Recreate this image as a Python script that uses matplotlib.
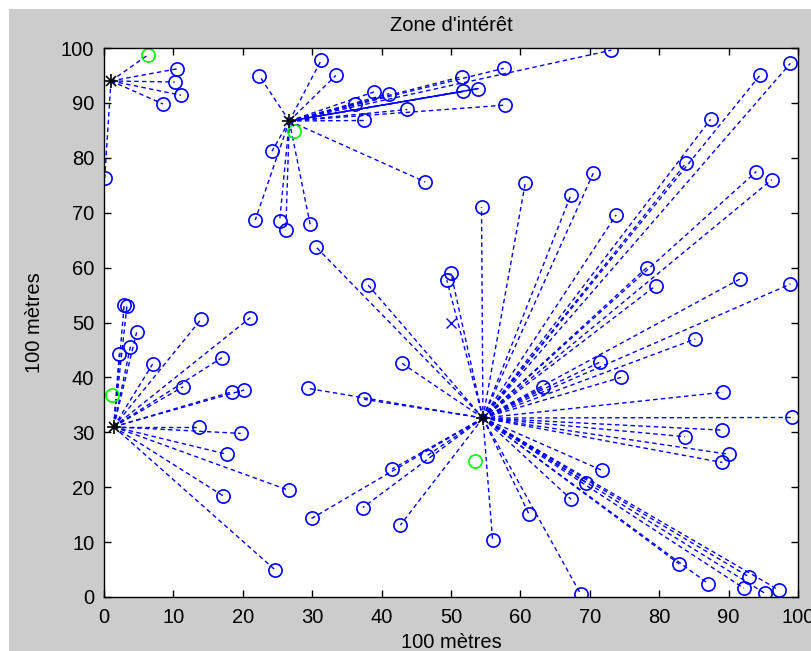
import matplotlib
matplotlib.use("Agg")
import matplotlib.pyplot as plt
from matplotlib.patches import Rectangle

# ---------------- data ----------------
heads_x = [1.0, 26.7, 1.4, 54.6]
heads_y = [94.0, 86.7, 31.0, 32.6]

sink_x = [50.0]
sink_y = [50.0]

dead_x = [6.3, 27.4, 1.2, 53.5]
dead_y = [98.7, 84.9, 36.8, 24.8]

# nodes of cluster 0 (head 0)
c0_x = [10.5, 10.2, 11.1, 8.5, 0.1]
c0_y = [96.2, 93.8, 91.4, 89.8, 76.3]

# nodes of cluster 1 (head 1)
c1_x = [22.4, 31.3, 33.4, 38.9, 41.1, 36.2, 43.7, 37.5, 51.6, 51.8, 53.9, 57.6,
        57.8, 46.3, 24.2, 21.8, 25.3, 26.2, 29.7, 73.1]
c1_y = [94.9, 97.8, 95.0, 92.0, 91.7, 89.8, 88.8, 86.8, 94.8, 92.1, 92.6, 96.3,
        89.6, 75.6, 81.2, 68.7, 68.4, 66.8, 67.9, 99.6]

# nodes of cluster 2 (head 2)
c2_x = [2.9, 3.3, 4.7, 3.8, 2.2, 7.0, 14.0, 21.1, 17.0, 11.4, 18.5, 20.2,
        13.7, 19.7, 17.7, 26.7, 17.2, 24.6]
c2_y = [53.1, 53.0, 48.2, 45.6, 44.3, 42.4, 50.6, 50.9, 43.6, 38.3, 37.4, 37.7,
        31.0, 29.8, 26.0, 19.4, 18.4, 5.0]

# nodes of cluster 3 (head 3)
c3_x = [30.6, 38.0, 50.0, 49.4, 42.9, 29.4, 37.5, 46.5, 41.5, 37.3, 29.9, 42.7,
        56.0, 61.2, 54.4, 60.7, 67.3, 70.5, 73.8, 87.4, 83.9, 94.5, 98.9, 94.0,
        96.2, 78.2, 79.5, 91.6, 98.9, 85.2, 71.5, 74.5, 63.3, 89.2, 99.2, 89.0,
        83.7, 90.0, 89.1, 71.7, 69.5, 67.3, 68.7, 82.9, 87.1, 92.9, 92.2, 95.2,
        97.2]
c3_y = [63.7, 56.9, 59.0, 57.7, 42.6, 38.0, 36.0, 25.7, 23.3, 16.3, 14.3, 13.1,
        10.3, 15.2, 71.0, 75.4, 73.3, 77.2, 69.6, 87.0, 79.1, 95.0, 97.2, 77.5,
        76.0, 60.0, 56.7, 57.9, 57.0, 47.0, 42.8, 40.0, 38.2, 37.3, 32.7, 30.4,
        29.2, 26.0, 24.5, 23.1, 20.8, 17.8, 0.5, 6.0, 2.4, 3.7, 1.6, 0.7,
        1.3]

# solid links (head 1 -> node)
solid_x = [51.8, 53.9]
solid_y = [92.1, 92.6]

x_ticks = [0, 10, 20, 30, 40, 50, 60, 70, 80, 90, 100]
y_ticks = [0, 10, 20, 30, 40, 50, 60, 70, 80, 90, 100]
title = "Zone d'intérêt"
xlabel = "100 mètres"
ylabel = "100 mètres"

# ---------------- style ----------------
plt.rcParams['font.family'] = ['Liberation Sans', 'DejaVu Sans']
FS = 14.5
blue = '#0000ff'
dash = (0, (3.2, 2.4))

fig = plt.figure(figsize=(8.12, 6.51), dpi=100, facecolor='#cccccc')
# white strips at top / left like the screenshot
fig.patches.append(Rectangle((0, 1 - 9 / 651), 1, 9 / 651, transform=fig.transFigure,
                             facecolor='white', edgecolor='none', zorder=-1))
fig.patches.append(Rectangle((0, 0), 9 / 812, 1, transform=fig.transFigure,
                             facecolor='white', edgecolor='none', zorder=-1))

ax = fig.add_axes([104 / 812, (651 - 597) / 651, 694 / 812, 549 / 651])
ax.set_facecolor('white')

clusters = [(c0_x, c0_y), (c1_x, c1_y), (c2_x, c2_y), (c3_x, c3_y)]
for h, (cx, cy) in enumerate(clusters):
    for x, y in zip(cx, cy):
        ax.plot([heads_x[h], x], [heads_y[h], y], color=blue, lw=1.0, linestyle=dash)
    ax.plot(cx, cy, linestyle='none', marker='o', markersize=9.5, markerfacecolor='none',
            markeredgecolor=blue, markeredgewidth=1.2)

# dashed link head 0 -> dead node next to it
ax.plot([heads_x[0], dead_x[0]], [heads_y[0], dead_y[0]], color=blue, lw=1.0, linestyle=dash)

for x, y in zip(solid_x, solid_y):
    ax.plot([heads_x[1], x], [heads_y[1], y], color=blue, lw=1.0)

ax.plot(dead_x, dead_y, linestyle='none', marker='o', markersize=9.5, markerfacecolor='none',
        markeredgecolor='#00ff00', markeredgewidth=1.2)
ax.plot(sink_x, sink_y, linestyle='none', marker='x', markersize=7, color=blue, markeredgewidth=1.0)
ax.plot(heads_x, heads_y, linestyle='none', marker='+', markersize=10, color='black', markeredgewidth=1.2)
ax.plot(heads_x, heads_y, linestyle='none', marker='x', markersize=7, color='black', markeredgewidth=1.2)

ax.set_xlim(0, 100)
ax.set_ylim(0, 100)
ax.set_xticks(x_ticks)
ax.set_yticks(y_ticks)
ax.tick_params(axis='both', direction='in', length=5, width=1, top=True, right=True,
               labelsize=FS, colors='black')
ax.tick_params(axis='x', pad=8)
ax.tick_params(axis='y', pad=7)
for s in ax.spines.values():
    s.set_linewidth(1.0)
    s.set_color('black')

ax.set_title(title, fontsize=FS, pad=12)
ax.set_xlabel(xlabel, fontsize=FS, labelpad=4)
ax.set_ylabel(ylabel, fontsize=FS, labelpad=12)

fig.savefig('out.png', dpi=100, facecolor=fig.get_facecolor())
